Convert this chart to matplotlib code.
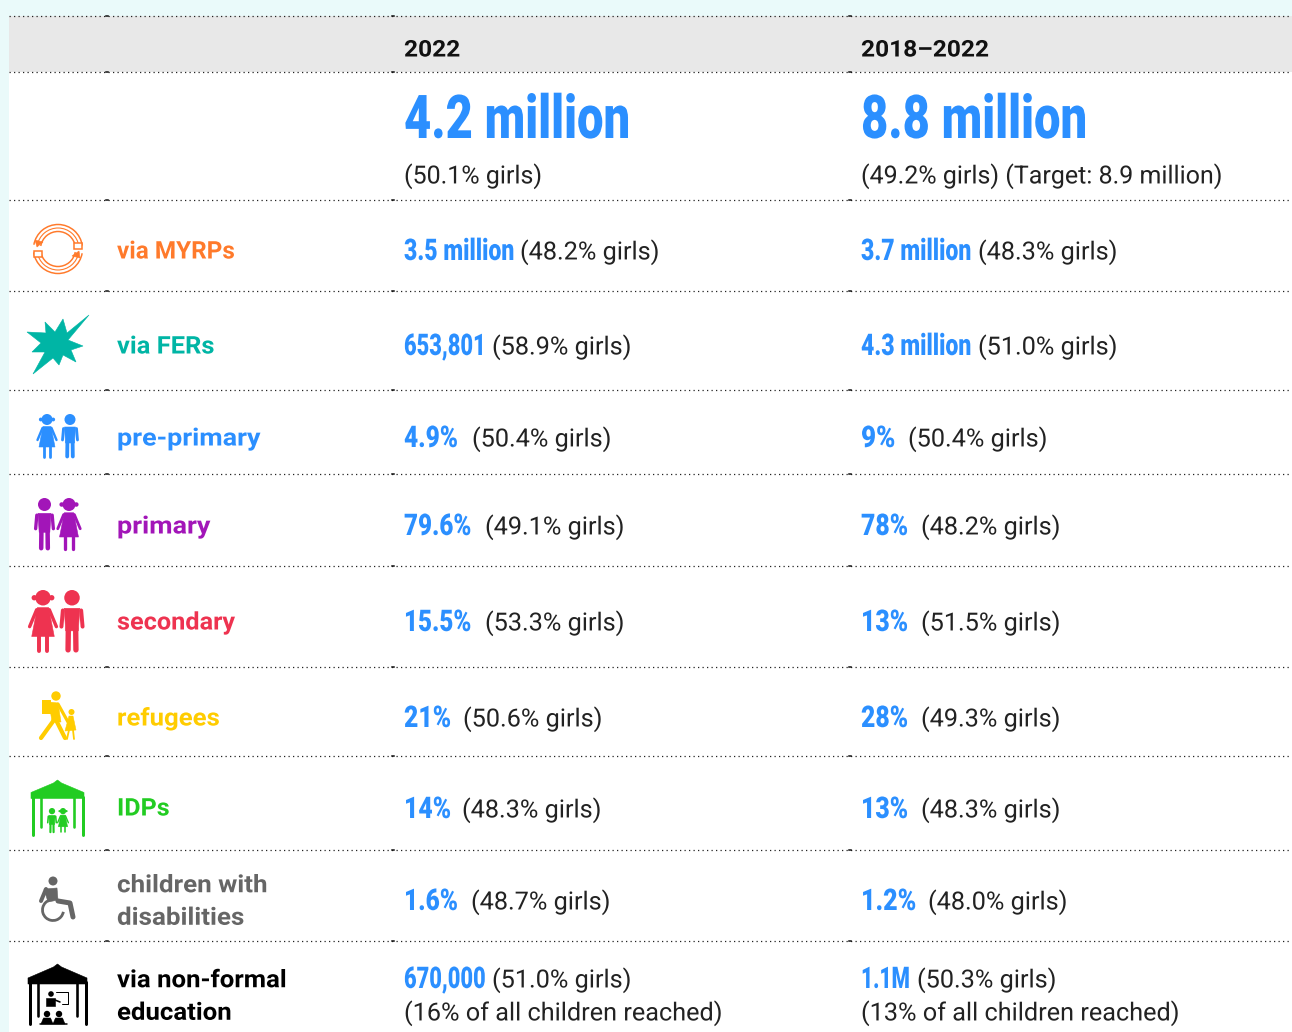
import matplotlib
matplotlib.use('Agg')
import matplotlib.pyplot as plt
from matplotlib.patches import Circle, Polygon, Rectangle, Arc
from matplotlib.patheffects import AbstractPathEffect
from matplotlib.transforms import Affine2D

# Table contents
col_years = ['2022', '2018\u20132022']
total_values = ['4.2 million', '8.8 million']
total_notes = ['(50.1% girls)', '(49.2% girls) (Target: 8.9 million)']

row_labels = ['via MYRPs', 'via FERs', 'pre-primary', 'primary', 'secondary',
              'refugees', 'IDPs', 'children with\ndisabilities', 'via non-formal\neducation']
row_colors = ['#ff7a2b', '#00b5a5', '#2b8fff', '#a215b8', '#ee3350',
              '#ffcc00', '#22cc22', '#666666', '#000000']
values_2022 = ['3.5 million', '653,801', '4.9%', '79.6%', '15.5%', '21%', '14%', '1.6%', '670,000']
girls_2022 = ['(48.2% girls)', '(58.9% girls)', '(50.4% girls)', '(49.1% girls)', '(53.3% girls)',
              '(50.6% girls)', '(48.3% girls)', '(48.7% girls)', '(51.0% girls)']
values_1822 = ['3.7 million', '4.3 million', '9%', '78%', '13%', '28%', '13%', '1.2%', '1.1M']
girls_1822 = ['(48.3% girls)', '(51.0% girls)', '(50.4% girls)', '(48.2% girls)', '(51.5% girls)',
              '(49.3% girls)', '(48.3% girls)', '(48.0% girls)', '(50.3% girls)']
extra_notes = ['(16% of all children reached)', '(13% of all children reached)']

# Layout, in pixels of the picture
rule_y = [16, 72, 200, 291, 390, 474, 566, 667, 756, 850, 941]
row_y = [250, 345, 437, 525, 621, 717, 808, 900, 978]
label_y = [252, 347, 439, 527, 623, 719, 809, 902, 997]
label_stretch = [1.0, 1.05, 1.11, 1.11, 1.04, 1.06, 1.03, 1.07, 1.06]
stretch_2022 = [0.77, 0.73, 0.82, 0.81, 0.81, 0.83, 0.83, 0.82, 0.73]
stretch_1822 = [0.77, 0.77, 0.87, 0.83, 0.83, 0.83, 0.83, 0.84, 0.70]
girls_x_2022 = [520, 492, 472, 485, 485, 463, 462, 471, 492]
girls_x_1822 = [978, 978, 908, 921, 921, 921, 921, 928, 917]
X_LABEL, X_A, X_B = 117, 404, 861

BLUE = '#2b8fff'
FONT = 'Roboto'


class StretchX(AbstractPathEffect):
    # squeezes or widens a text about its left edge, the text stays a text
    def __init__(self, x0, sx):
        super().__init__()
        self.x0, self.sx = x0, sx

    def draw_path(self, renderer, gc, tpath, affine, rgbFace=None):
        t = affine + Affine2D().translate(-self.x0, 0).scale(self.sx, 1).translate(self.x0, 0)
        renderer.draw_path(gc, tpath, t, rgbFace)


def put(x, y, s, size, color, sx=1.0, weight='normal', linespacing=1.2):
    t = ax.text(x, y, s, fontsize=size, fontweight=weight, family=FONT, color=color,
                va='center', ha='left', linespacing=linespacing)
    t.set_path_effects([StretchX(x, sx)])
    return t


fig = plt.figure(figsize=(12.92, 10.32), dpi=100, facecolor='#eafafa')
ax = fig.add_axes([0, 0, 1, 1])
ax.set_xlim(0, 1292)
ax.set_ylim(1032, 0)
ax.axis('off')

ax.add_patch(Rectangle((9, 16), 1283, 1016, fc='white', ec='none', zorder=0))
ax.add_patch(Rectangle((9, 16), 1283, 56, fc='#e8e8e8', ec='none', zorder=0))

for y in rule_y:
    ax.plot([9, 1292], [y, y], color='#222222', lw=0.9, ls=(0, (1, 2.6)), zorder=1)
    for x in [107, 393, 850]:
        ax.plot([x - 1, x + 1], [y, y], color='#111111', lw=1.1, zorder=1)


def seg(pts, color, w):
    xs, ys = zip(*pts)
    ax.plot(xs, ys, color=color, lw=w * 0.72, solid_capstyle='round',
            solid_joinstyle='round', zorder=3)


def poly(pts, color):
    ax.add_patch(Polygon(pts, closed=True, fc=color, ec=color, lw=0.4, zorder=3))


def dot(x, y, r, color):
    ax.add_patch(Circle((x, y), r, fc=color, ec='none', zorder=3))


def boy(cx, top, h, color):
    u = h / 44
    dot(cx, top + 5.5 * u, 5.5 * u, color)
    poly([(cx - 5.5 * u, top + 13 * u), (cx + 5.5 * u, top + 13 * u), (cx + 4.5 * u, top + 29 * u),
          (cx - 4.5 * u, top + 29 * u)], color)
    seg([(cx - 6.5 * u, top + 14.5 * u), (cx - 7.5 * u, top + 26 * u)], color, 2.8 * u)
    seg([(cx + 6.5 * u, top + 14.5 * u), (cx + 7.5 * u, top + 26 * u)], color, 2.8 * u)
    seg([(cx - 2.6 * u, top + 27 * u), (cx - 2.8 * u, top + 42.5 * u)], color, 3.8 * u)
    seg([(cx + 2.6 * u, top + 27 * u), (cx + 2.8 * u, top + 42.5 * u)], color, 3.8 * u)


def girl(cx, top, h, color):
    u = h / 44
    dot(cx, top + 5.5 * u, 5.5 * u, color)
    dot(cx - 6.2 * u, top + 5.5 * u, 1.9 * u, color)
    dot(cx + 6.2 * u, top + 5.5 * u, 1.9 * u, color)
    poly([(cx - 4 * u, top + 12.5 * u), (cx + 4 * u, top + 12.5 * u), (cx + 8 * u, top + 33 * u),
          (cx - 8 * u, top + 33 * u)], color)
    seg([(cx - 4.5 * u, top + 14 * u), (cx - 9.5 * u, top + 26 * u)], color, 2.4 * u)
    seg([(cx + 4.5 * u, top + 14 * u), (cx + 9.5 * u, top + 26 * u)], color, 2.4 * u)
    seg([(cx - 3 * u, top + 32 * u), (cx - 3 * u, top + 43 * u)], color, 2.8 * u)
    seg([(cx + 3 * u, top + 32 * u), (cx + 3 * u, top + 43 * u)], color, 2.8 * u)


def tent(left, right, top, bottom, color):
    mid = (left + right) / 2
    eave = top + (bottom - top) * 0.30
    poly([(mid, top), (mid + 4, top + 3), (right, eave - 4), (right, eave + 2),
          (left, eave + 2), (left, eave - 4), (mid - 4, top + 3)], color)
    for x, w, end in [(left + 1.5, 3, bottom), (right - 1.5, 3, bottom),
                      (left + 10, 2.6, bottom - 8), (right - 10, 2.6, bottom - 8)]:
        seg([(x, eave), (x, end)], color, w)


# MYRP icon, two curved pencils
c = row_colors[0]
for r, w in [(24.5, 1.5), (21, 1.1), (17.5, 1.5)]:
    ax.add_patch(Arc((58, 249), 2 * r, 2 * r, theta1=190, theta2=352, ec=c, lw=w * 0.72, zorder=3))
    ax.add_patch(Arc((58, 249), 2 * r, 2 * r, theta1=10, theta2=172, ec=c, lw=w * 0.72, zorder=3))
ax.add_patch(Rectangle((74, 243), 7.5, 5.5, fc='white', ec=c, lw=1.1, zorder=4))
ax.add_patch(Rectangle((34, 251), 7.5, 5.5, fc='white', ec=c, lw=1.1, zorder=4))
poly([(35, 240), (43, 242), (37, 247)], c)
poly([(80, 258), (72, 256), (79, 251)], c)

# FER icon, the burst
poly([(89, 315), (67, 333), (63, 319), (55, 332), (45, 322), (46, 333), (27, 332), (41, 343),
      (32, 352), (45, 352), (33, 374), (53, 358), (59, 365), (63, 355), (76, 362), (71, 350),
      (83, 346), (68, 340)], row_colors[1])

girl(47, 414, 44, row_colors[2])
boy(70, 414, 44, row_colors[2])
boy(44.5, 498, 52, row_colors[3])
girl(69, 498, 52, row_colors[3])
girl(43, 590, 62, row_colors[4])
boy(72, 590, 62, row_colors[4])

# Refugee icon, adult walking with a child
c = row_colors[5]
dot(56, 696, 4.7, c)
ax.add_patch(Rectangle((42, 700), 9, 14, fc=c, ec='none', zorder=3))
poly([(49, 702), (58, 703), (61, 722), (52, 722)], c)
seg([(58, 704), (68, 722)], c, 3.2)
seg([(54, 720), (41, 738)], c, 4.2)
seg([(56, 720), (65, 738)], c, 4.2)
dot(71.5, 712, 3, c)
poly([(69, 716), (73, 716), (76, 730), (65, 731)], c)
seg([(69, 730), (67, 739)], c, 1.8)
seg([(73, 730), (74, 739)], c, 1.8)

# IDP icon, tent with two children
tent(31, 84, 780, 835, row_colors[6])
boy(52, 808, 25, row_colors[6])
girl(63, 808, 25, row_colors[6])

# Disability icon
c = row_colors[7]
dot(53, 881, 4.5, c)
poly([(44, 889), (57, 888), (58, 900), (48, 902)], c)
seg([(58, 901), (70, 903), (73, 917)], c, 5)
seg([(46, 889), (41, 901)], c, 4)
ax.add_patch(Arc((53, 910), 21, 21, theta1=10, theta2=255, ec=c, lw=2.0, zorder=3))

# Non-formal education icon, tent with a teacher and two pupils
c = row_colors[8]
tent(28, 87, 964, 1024, c)
dot(51, 994, 2.8, c)
poly([(46, 998), (55, 998), (55, 1006), (46, 1006)], c)
seg([(55, 1000), (60, 1002)], c, 1.6)
seg([(56, 992), (68, 992), (68, 1004), (62, 1004)], c, 1.0)
for x in [47, 59]:
    dot(x, 1014, 3.2, c)
    poly([(x - 6, 1024), (x - 3.5, 1018), (x + 3.5, 1018), (x + 6, 1024)], c)
seg([(40, 1024), (67, 1024)], c, 1.5)

# Header row
for x, t in zip([X_A, X_B], col_years):
    put(x, 50, t, 16.5, '#111111', sx=1.07, weight='bold')

# Totals row
for x, t, n in zip([X_A, X_B], total_values, total_notes):
    put(x, 122, t, 43.5, BLUE, sx=0.78, weight='black')
    put(x, 176, n, 18, '#222222', sx=1.0)

# Body rows
for i, label in enumerate(row_labels):
    put(X_LABEL, label_y[i], label, 17.5, row_colors[i], sx=label_stretch[i], weight='bold',
        linespacing=1.53)
    put(X_A, row_y[i] + 2, values_2022[i], 21.5, BLUE, sx=stretch_2022[i], weight='black')
    put(girls_x_2022[i], row_y[i] + 2, girls_2022[i], 18, '#222222', sx=1.01)
    put(X_B, row_y[i] + 2, values_1822[i], 21.5, BLUE, sx=stretch_1822[i], weight='black')
    put(girls_x_1822[i], row_y[i] + 2, girls_1822[i], 18, '#222222', sx=1.01)

for x, t in zip([X_A, X_B], extra_notes):
    put(x, 1013, t, 18, '#222222', sx=1.01)

fig.savefig('out.png', dpi=100, facecolor=fig.get_facecolor())
